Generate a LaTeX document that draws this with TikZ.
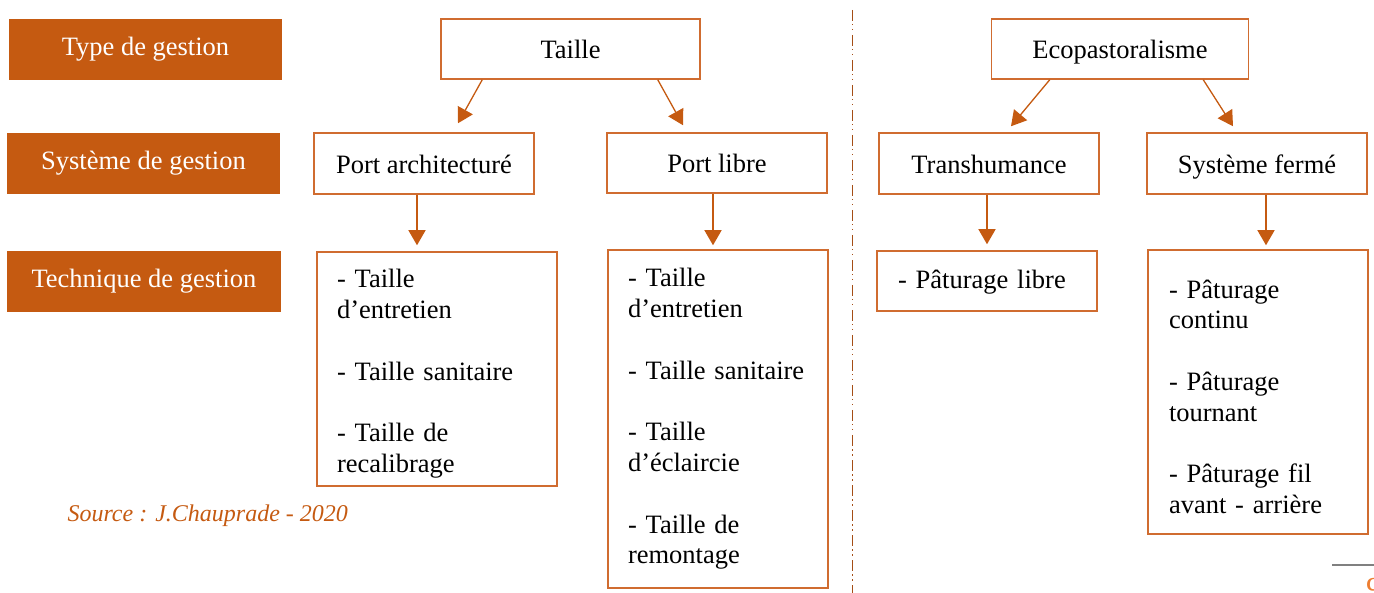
\documentclass[tikz,border=0pt]{standalone}
\usepackage{fontspec}
\setmainfont{Liberation Serif}
\usetikzlibrary{arrows.meta}

\definecolor{rust}{RGB}{197,90,17}
\definecolor{rustline}{RGB}{208,108,48}
\definecolor{darkrust}{RGB}{165,78,22}
\definecolor{pageorange}{RGB}{237,125,49}
\definecolor{rulegray}{RGB}{128,128,128}

\newcommand{\blankline}{\\[30.8pt]}
\newcommand{\toppad}{\rule{0pt}{28pt}}

\tikzset{
  every node/.style={font=\fontsize{26.5}{30.8}\selectfont},
  rowlabel/.style={fill=rust, text=white, inner sep=0pt, text height=18pt, text depth=6pt},
  plainbox/.style={draw=rustline, line width=1.5pt, inner sep=0pt},
  headbox/.style={plainbox, text height=22pt, text depth=2pt},
  listbox/.style={plainbox, align=left, inner xsep=20pt, inner ysep=0pt},
  arr/.style={draw=rust, line width=1.3pt, -{Triangle[width=17pt,length=15pt]}},
}

\begin{document}
\begin{tikzpicture}[x=1pt,y=-1pt]
                \useasboundingbox (0,0) rectangle (1374,593);
                \clip (0,0) rectangle (1374,593);
                % row labels
                \node[rowlabel, minimum width=273pt, minimum height=61pt] (typ) at (145.5,49.5) {Type de gestion};
                \node[rowlabel, minimum width=273pt, minimum height=61pt] (sys) at (143.5,163.5) {Système de gestion};
                \node[rowlabel, minimum width=274pt, minimum height=61pt] (tec) at (144,281.5) {Technique de gestion};
                % taille
                \node[headbox, minimum width=259pt, minimum height=60pt] (taille) at (570.5,49) {Taille};
                \node[headbox, minimum width=220pt, minimum height=61pt] (archi) at (424,163.5) {Port architecturé};
                \node[headbox, minimum width=220pt, minimum height=60pt] (libre) at (717,163) {Port libre};
                \node[listbox, text width=200pt, minimum height=234pt] (techA) at (437,369)
                    {\toppad- Taille\\d’entretien\blankline - Taille sanitaire\blankline - Taille de\\recalibrage};
                \node[listbox, text width=180pt, minimum height=338pt] (techL) at (718,419)
                    {- Taille\\d’entretien\blankline - Taille sanitaire\blankline - Taille\\d’éclaircie\blankline - Taille de\\remontage};
                % ecopastoralisme
                \node[headbox, minimum width=257pt, minimum height=60pt] (eco) at (1120,49) {Ecopastoralisme};
                \node[headbox, minimum width=220pt, minimum height=61pt] (trans) at (989,163.5) {Transhumance};
                \node[headbox, minimum width=220pt, minimum height=61pt] (ferme) at (1257,163.5) {Système fermé};
                \node[listbox, inner xsep=21pt, text width=178pt, minimum height=60pt, text height=20pt, text depth=4pt] (paturL) at (987,281) {- Pâturage libre};
                \node[listbox, inner xsep=21pt, text width=178pt, minimum height=284pt] (paturF) at (1258,392)
                    {\toppad- Pâturage\\continu\blankline - Pâturage\\tournant\blankline - Pâturage fil\\avant - arrière};
                % arrows
                \draw[arr] ([xshift=42pt]taille.south west) -- ([xshift=34pt,yshift=9pt]archi.north);
                \draw[arr] ([xshift=-43pt]taille.south east) -- ([xshift=-34pt,yshift=7pt]libre.north);
                \draw[arr, shorten >=6pt] ([xshift=-7pt]archi.south) -- ([xshift=-7pt]archi.south |- techA.north);
                \draw[arr, shorten >=4pt] ([xshift=-4pt]libre.south) -- ([xshift=-4pt]libre.south |- techL.north);
                \draw[arr] ([xshift=59pt]eco.south west) -- ([xshift=22pt,yshift=6pt]trans.north);
                \draw[arr] ([xshift=-46pt]eco.south east) -- ([xshift=-24pt,yshift=6pt]ferme.north);
                \draw[arr, shorten >=6pt] ([xshift=-2pt]trans.south) -- ([xshift=-2pt]trans.south |- paturL.north);
                \draw[arr, shorten >=4pt] ([xshift=9pt]ferme.south) -- ([xshift=9pt]ferme.south |- paturF.north);
                % divider
                \draw[darkrust, line width=1pt, dash pattern=on 11pt off 3pt on 1.5pt off 3.5pt on 1.5pt off 4.5pt] (852,10) -- (852,593);
                % source and page number
                \node[anchor=base west, text=rust, font=\fontsize{24}{28}\selectfont\itshape] (src) at (64,521) {Source : J.Chauprade - 2020};
                \draw[rulegray, line width=2pt] (1332,565) -- (1374,565);
                \node[anchor=base west, inner sep=0pt, text=pageorange, font=\fontsize{32}{36}\selectfont] (page) at (1366,599) {9};
            \end{tikzpicture}
\end{document}
